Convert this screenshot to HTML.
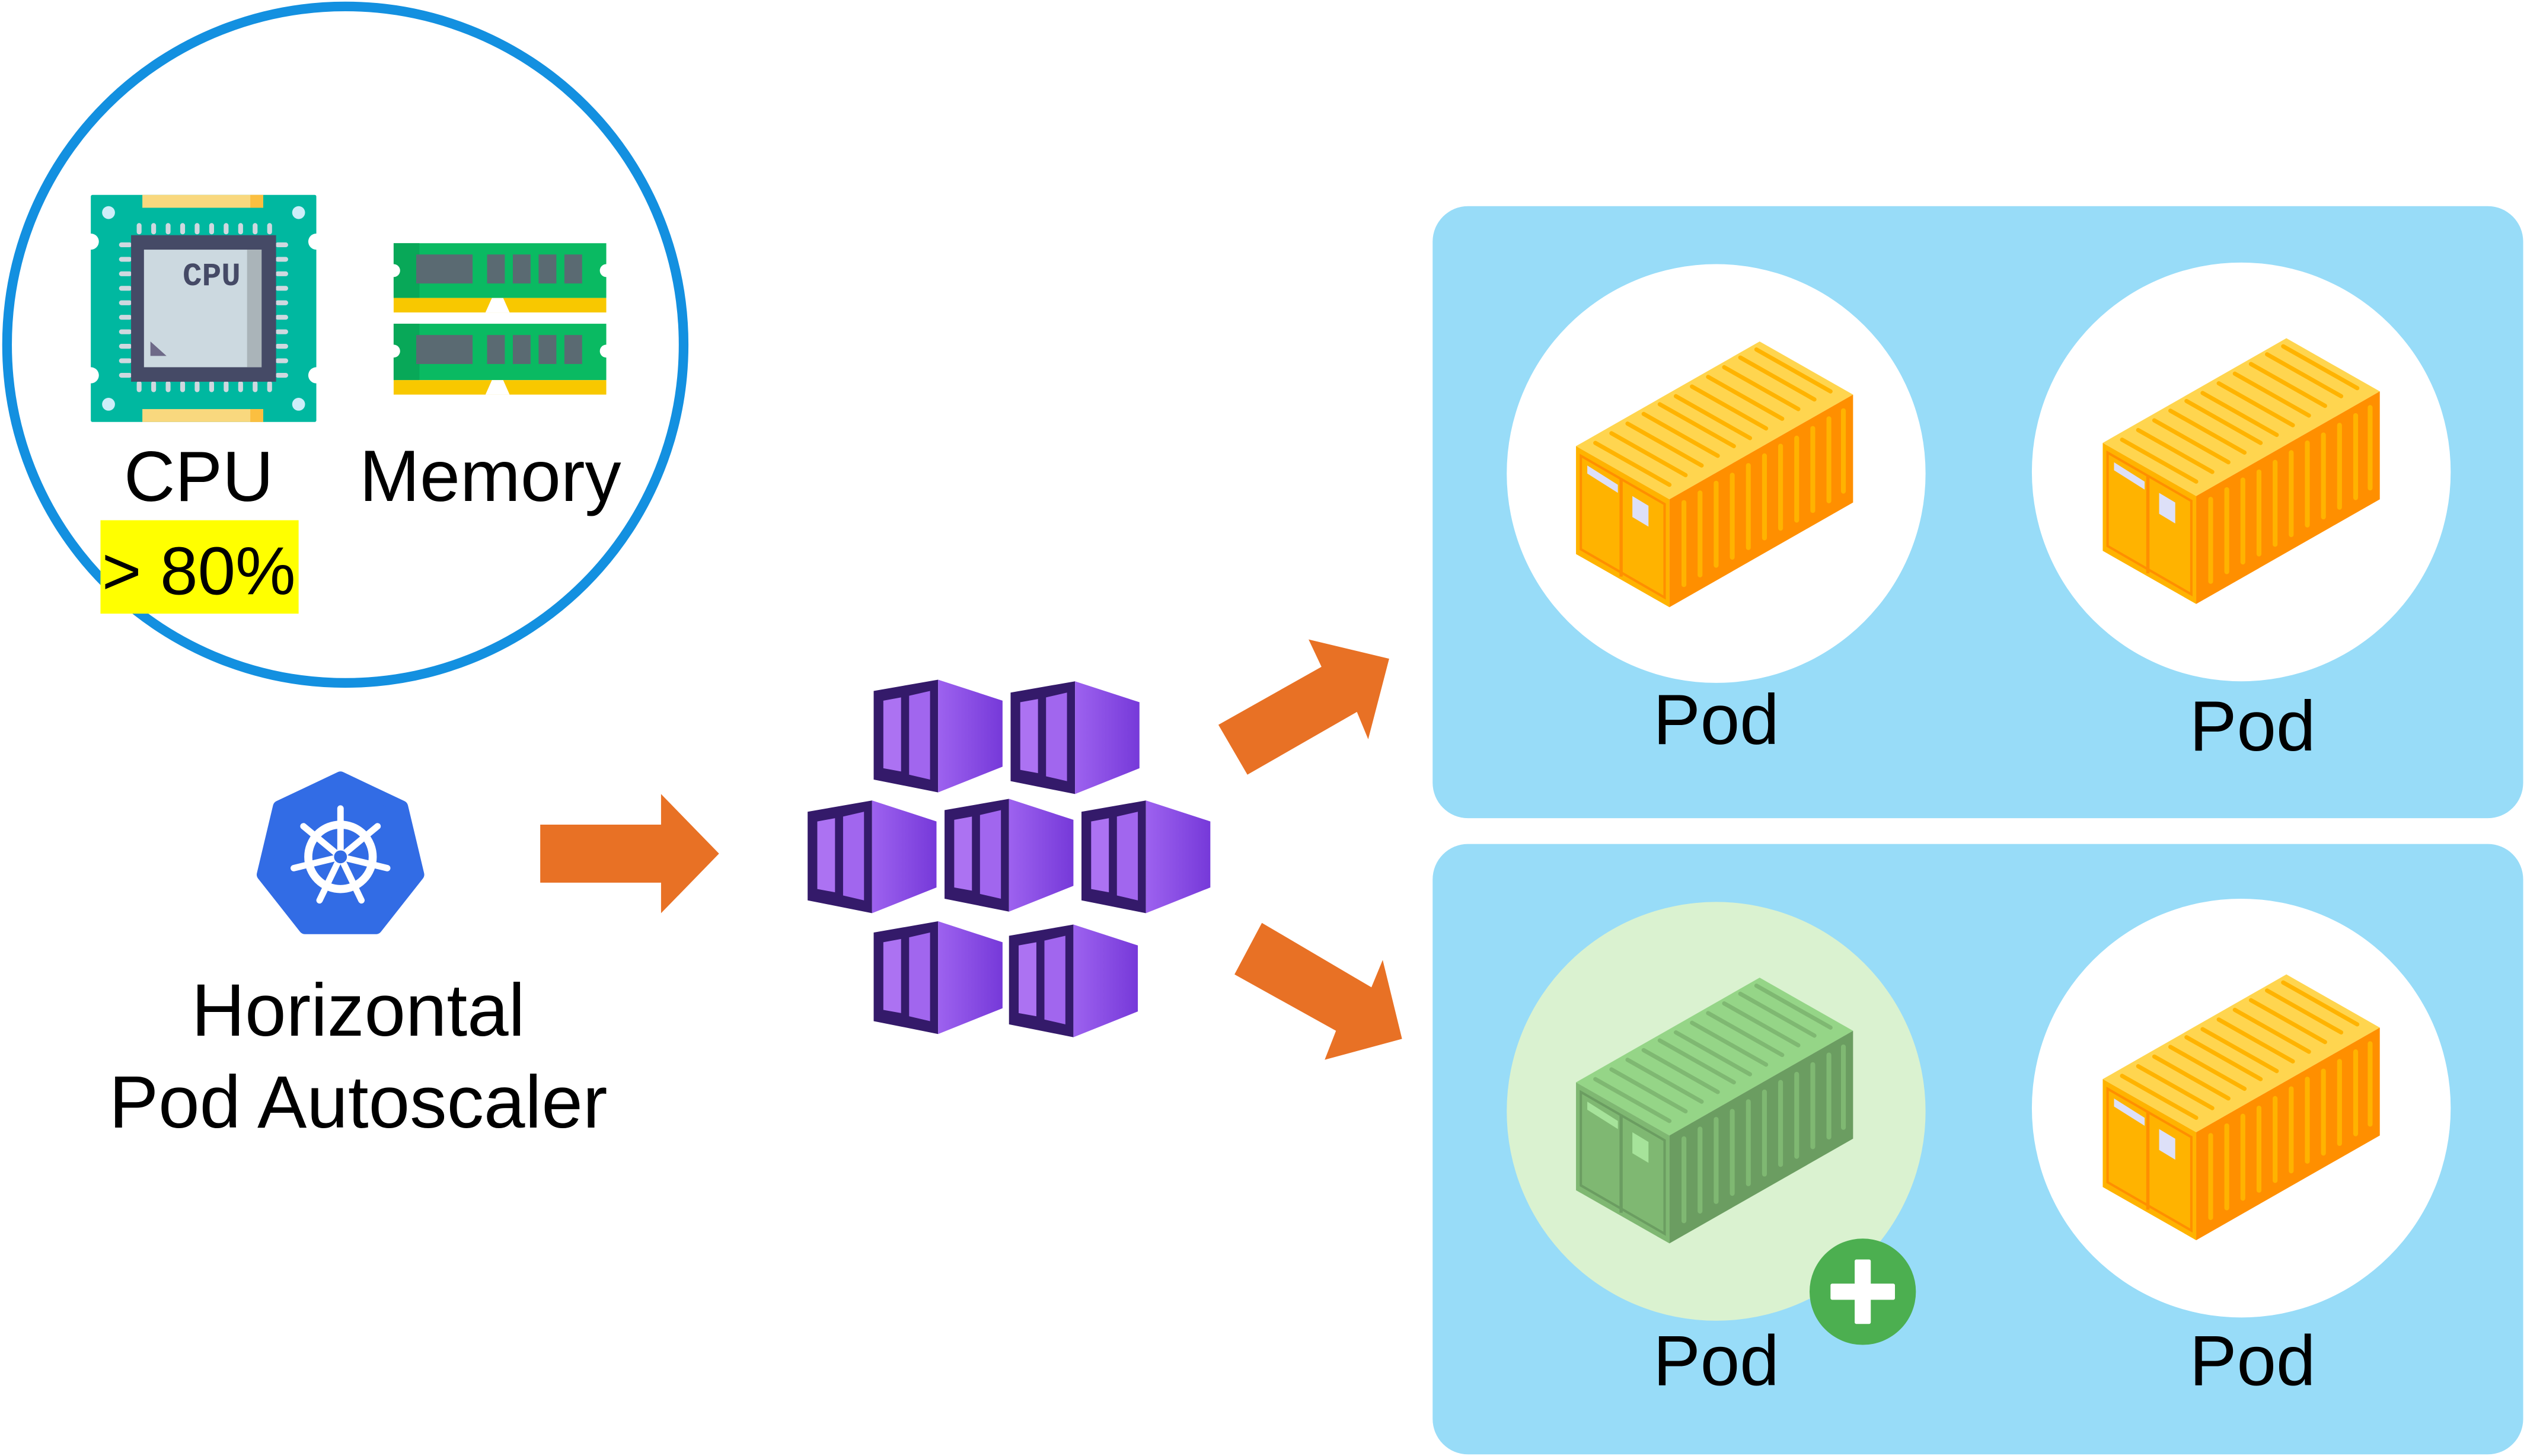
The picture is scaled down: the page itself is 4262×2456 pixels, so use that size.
<!DOCTYPE html>
<html><head><meta charset="utf-8"><style>html,body{margin:0;padding:0;background:#fff}svg{display:block}</style></head>
<body>
<svg xmlns="http://www.w3.org/2000/svg" width="4262" height="2456" viewBox="0 0 1568 904" font-family="Liberation Sans, sans-serif">
<defs>
<linearGradient id="pg" x1="0" x2="1" y1="0" y2="0"><stop offset="0" stop-color="#9d62ef"/><stop offset="1" stop-color="#7639d9"/></linearGradient>
<g id="cube">
<polygon points="0,7 40,0 40,70 0,62" fill="#341a6a"/>
<polygon points="40,0 80,13 80,54 40,70" fill="url(#pg)"/>
<polygon points="6,13 17,11 17,57 6,55" fill="#ac72f2"/>
<polygon points="22,10 35,7 35,62 22,59" fill="#a166ee"/>
</g>
<g id="contY">
<polygon points="0,65 114,0 172,33 58,98" fill="#ffd54f"/>
<polygon points="0,65 58,98 58,165 0,132" fill="#ffb300"/>
<polygon points="58,98 172,33 172,100 58,165" fill="#ff8f00"/>
<g stroke="#ffb300" stroke-width="2.6" stroke-linecap="round">
<line x1="12" y1="63" x2="58" y2="89"/><line x1="22" y1="57" x2="68" y2="83"/><line x1="32" y1="51" x2="78" y2="77"/><line x1="42" y1="45" x2="88" y2="71"/><line x1="52" y1="39" x2="98" y2="65"/><line x1="62" y1="34" x2="108" y2="60"/><line x1="72" y1="28" x2="118" y2="54"/><line x1="82" y1="22" x2="128" y2="48"/><line x1="92" y1="16" x2="138" y2="42"/><line x1="102" y1="10" x2="148" y2="36"/><line x1="112" y1="5" x2="158" y2="31"/>
</g>
<g stroke="#ffb300" stroke-width="3" stroke-linecap="round">
<line x1="67" y1="100" x2="67" y2="151"/><line x1="77" y1="94" x2="77" y2="145"/><line x1="87" y1="88" x2="87" y2="139"/><line x1="97" y1="83" x2="97" y2="134"/><line x1="107" y1="77" x2="107" y2="128"/><line x1="117" y1="71" x2="117" y2="122"/><line x1="127" y1="65" x2="127" y2="116"/><line x1="137" y1="60" x2="137" y2="111"/><line x1="147" y1="54" x2="147" y2="105"/><line x1="157" y1="48" x2="157" y2="99"/><line x1="166" y1="43" x2="166" y2="93"/>
</g>
<polygon points="3,71 55,101 55,159 3,129" fill="none" stroke="#ff8f00" stroke-width="1.5"/>
<line x1="28" y1="85" x2="28" y2="146" stroke="#ff8f00" stroke-width="2"/>
<polygon points="7,77 26,89 26,94 7,82" fill="#dde0f8"/>
<polygon points="35,96 45,102 45,115 35,109" fill="#dde0f8"/>
</g>
<g id="contG">
<polygon points="0,65 114,0 172,33 58,98" fill="#95d587"/>
<polygon points="0,65 58,98 58,165 0,132" fill="#7fb872"/>
<polygon points="58,98 172,33 172,100 58,165" fill="#6b9d61"/>
<g stroke="#7fb872" stroke-width="2.6" stroke-linecap="round">
<line x1="12" y1="63" x2="58" y2="89"/><line x1="22" y1="57" x2="68" y2="83"/><line x1="32" y1="51" x2="78" y2="77"/><line x1="42" y1="45" x2="88" y2="71"/><line x1="52" y1="39" x2="98" y2="65"/><line x1="62" y1="34" x2="108" y2="60"/><line x1="72" y1="28" x2="118" y2="54"/><line x1="82" y1="22" x2="128" y2="48"/><line x1="92" y1="16" x2="138" y2="42"/><line x1="102" y1="10" x2="148" y2="36"/><line x1="112" y1="5" x2="158" y2="31"/>
</g>
<g stroke="#7fb872" stroke-width="3" stroke-linecap="round">
<line x1="67" y1="100" x2="67" y2="151"/><line x1="77" y1="94" x2="77" y2="145"/><line x1="87" y1="88" x2="87" y2="139"/><line x1="97" y1="83" x2="97" y2="134"/><line x1="107" y1="77" x2="107" y2="128"/><line x1="117" y1="71" x2="117" y2="122"/><line x1="127" y1="65" x2="127" y2="116"/><line x1="137" y1="60" x2="137" y2="111"/><line x1="147" y1="54" x2="147" y2="105"/><line x1="157" y1="48" x2="157" y2="99"/><line x1="166" y1="43" x2="166" y2="93"/>
</g>
<polygon points="3,71 55,101 55,159 3,129" fill="none" stroke="#6b9d61" stroke-width="1.5"/>
<line x1="28" y1="85" x2="28" y2="146" stroke="#6b9d61" stroke-width="2"/>
<polygon points="7,77 26,89 26,94 7,82" fill="#a6e39a"/>
<polygon points="35,96 45,102 45,115 35,109" fill="#a6e39a"/>
</g>
</defs>

<circle cx="214" cy="214" r="210" fill="#fff" stroke="#1390e0" stroke-width="6"/>
<rect x="56" y="121" width="140" height="141" fill="#00b8a0" rx="1"/>
<rect x="88" y="121" width="75" height="8" fill="#f9d87e"/><rect x="155" y="121" width="8" height="8" fill="#fbbf40"/>
<rect x="88" y="254" width="75" height="8" fill="#f9d87e"/><rect x="155" y="254" width="8" height="8" fill="#fbbf40"/>
<circle cx="67" cy="132" r="4" fill="#cdeef9"/><circle cx="185" cy="132" r="4" fill="#cdeef9"/><circle cx="67" cy="251" r="4" fill="#cdeef9"/><circle cx="185" cy="251" r="4" fill="#cdeef9"/>
<circle cx="56" cy="150" r="5" fill="#fff"/><circle cx="196" cy="150" r="5" fill="#fff"/><circle cx="56" cy="233" r="5" fill="#fff"/><circle cx="196" cy="233" r="5" fill="#fff"/>
<g stroke="#cfd8df" stroke-width="3" stroke-linecap="round">
<path d="M86,140v4M95,140v4M104,140v4M113,140v4M122,140v4M131,140v4M140,140v4M149,140v4M158,140v4M167,140v4"/>
<path d="M86,238v4M95,238v4M104,238v4M113,238v4M122,238v4M131,238v4M140,238v4M149,238v4M158,238v4M167,238v4"/>
<path d="M75,152h5M75,161h5M75,170h5M75,179h5M75,188h5M75,197h5M75,206h5M75,215h5M75,224h5M75,233h5"/>
<path d="M172,152h5M172,161h5M172,170h5M172,179h5M172,188h5M172,197h5M172,206h5M172,215h5M172,224h5M172,233h5"/>
</g>
<rect x="81" y="146" width="90" height="91" fill="#454a66"/>
<rect x="89" y="155" width="73" height="73" fill="#ccd9e0"/>
<rect x="153" y="155" width="9" height="73" fill="#aab4b9"/>
<polygon points="93,212 103,221 93,221" fill="#6e6a88"/>
<text x="131" y="177" font-size="20" font-weight="bold" fill="#454a66" text-anchor="middle" font-family="Liberation Mono, monospace">CPU</text>
<g>
<rect x="244" y="151" width="132" height="34" fill="#0aba62"/><rect x="244" y="151" width="16" height="34" fill="#08a858"/>
<rect x="244" y="185" width="132" height="9" fill="#f8c800"/>
<polygon points="305,185 312,185 316,194 301,194" fill="#fff"/>
<rect x="258" y="158" width="35" height="18" fill="#5a6a72"/><rect x="302" y="158" width="11" height="18" fill="#5a6a72"/><rect x="318" y="158" width="11" height="18" fill="#5a6a72"/><rect x="334" y="158" width="11" height="18" fill="#5a6a72"/><rect x="350" y="158" width="11" height="18" fill="#5a6a72"/>
<circle cx="376" cy="168" r="4" fill="#fff"/>
<rect x="244" y="201" width="132" height="35" fill="#0aba62"/><rect x="244" y="201" width="16" height="35" fill="#08a858"/>
<rect x="244" y="236" width="132" height="9" fill="#f8c800"/>
<polygon points="305,236 312,236 316,245 301,245" fill="#fff"/>
<rect x="258" y="208" width="35" height="18" fill="#5a6a72"/><rect x="302" y="208" width="11" height="18" fill="#5a6a72"/><rect x="318" y="208" width="11" height="18" fill="#5a6a72"/><rect x="334" y="208" width="11" height="18" fill="#5a6a72"/><rect x="350" y="208" width="11" height="18" fill="#5a6a72"/>
<circle cx="376" cy="218" r="4" fill="#fff"/>
<circle cx="244" cy="218" r="4" fill="#fff"/><circle cx="244" cy="168" r="4" fill="#fff"/>
</g>
<text x="123" y="311" font-size="44" text-anchor="middle">CPU</text>
<text x="304" y="311" font-size="45" text-anchor="middle">Memory</text>
<rect x="62" y="323" width="123" height="58" fill="#ffff00"/>
<text x="123" y="369" font-size="42" text-anchor="middle">&gt; 80%</text>

<polygon points="211,483 249,501 259,543 233,576 189,576 163,543 173,501" fill="#326ce5" stroke="#326ce5" stroke-width="8" stroke-linejoin="round"/>
<g stroke="#fff" fill="none" stroke-linecap="round">
<circle cx="211" cy="532" r="20" stroke-width="5"/>
<g stroke-width="4">
<line x1="211" y1="532" x2="211" y2="502"/>
<line x1="211" y1="532" x2="234" y2="513"/>
<line x1="211" y1="532" x2="240" y2="539"/>
<line x1="211" y1="532" x2="224" y2="559"/>
<line x1="211" y1="532" x2="198" y2="559"/>
<line x1="211" y1="532" x2="182" y2="539"/>
<line x1="211" y1="532" x2="188" y2="513"/>
</g>
</g>
<circle cx="211" cy="532" r="4" fill="#326ce5"/>
<text x="222" y="643" font-size="46" text-anchor="middle">Horizontal</text>
<text x="222" y="700" font-size="46" text-anchor="middle">Pod Autoscaler</text>

<polygon points="335,512 410,512 410,493 446,530 410,567 410,548 335,548" fill="#e87125"/>

<use href="#cube" transform="translate(542,422)"/>
<use href="#cube" transform="translate(627,423)"/>
<use href="#cube" transform="translate(501,497)"/>
<use href="#cube" transform="translate(586,496)"/>
<use href="#cube" transform="translate(671,497)"/>
<use href="#cube" transform="translate(542,572)"/>
<use href="#cube" transform="translate(626,574)"/>

<polygon points="756,450 820,414 812,397 862,409 849,459 842,442 774,481" fill="#e87125"/>
<polygon points="766,605 783,573 851,613 858,596 870,645 822,658 829,640" fill="#e87125"/>

<rect x="889" y="128" width="677" height="380" rx="22" fill="#98dcf8"/>
<rect x="889" y="524" width="677" height="379" rx="22" fill="#98dcf8"/>
<circle cx="1065" cy="294" r="130" fill="#fff"/>
<circle cx="1391" cy="293" r="130" fill="#fff"/>
<circle cx="1065" cy="690" r="130" fill="#daf2d0"/>
<circle cx="1391" cy="688" r="130" fill="#fff"/>
<use href="#contY" transform="translate(978,212)"/>
<use href="#contY" transform="translate(1305,210)"/>
<use href="#contG" transform="translate(978,607)"/>
<use href="#contY" transform="translate(1305,605)"/>
<circle cx="1156" cy="802" r="33" fill="#4caf50"/>
<rect x="1151" y="782" width="10" height="40" rx="1" fill="#fff"/>
<rect x="1136" y="797" width="40" height="10" rx="1" fill="#fff"/>
<text x="1065" y="462" font-size="44" text-anchor="middle">Pod</text>
<text x="1398" y="466" font-size="44" text-anchor="middle">Pod</text>
<text x="1065" y="860" font-size="44" text-anchor="middle">Pod</text>
<text x="1398" y="860" font-size="44" text-anchor="middle">Pod</text>
</svg>
</body></html>
